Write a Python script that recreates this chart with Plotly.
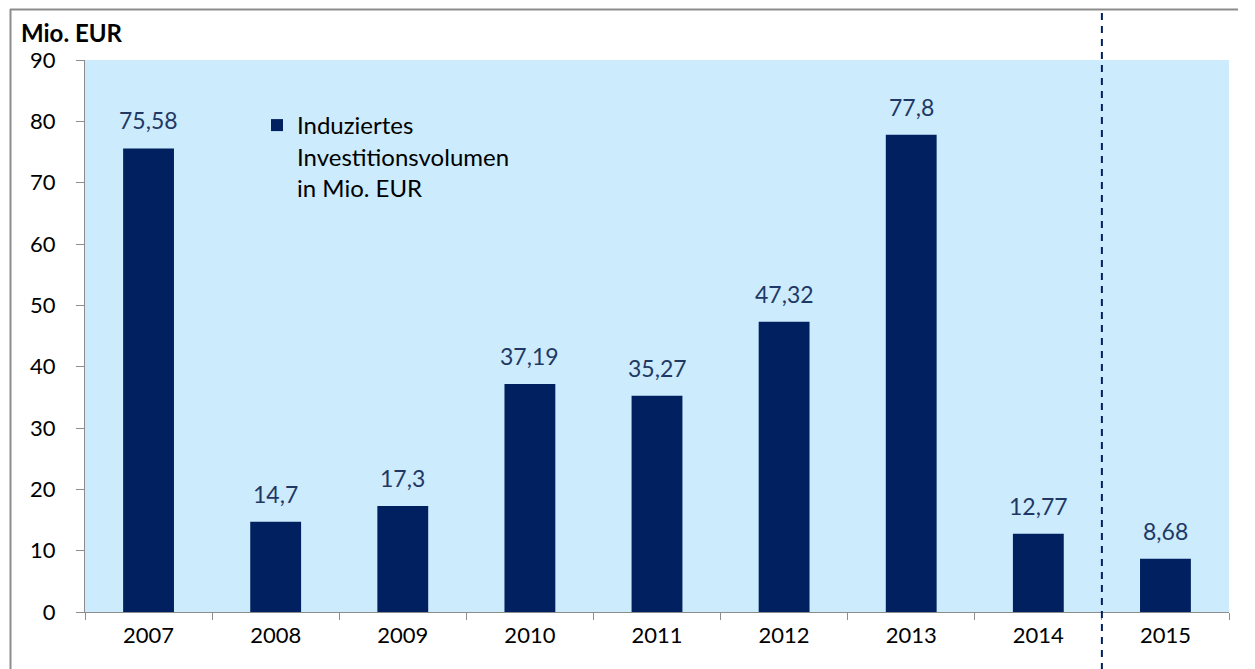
import plotly.graph_objects as go

years = ["2007", "2008", "2009", "2010", "2011", "2012", "2013", "2014", "2015"]
values = [75.58, 14.7, 17.3, 37.19, 35.27, 47.32, 77.8, 12.77, 8.68]
labels = ["75,58", "14,7", "17,3", "37,19", "35,27", "47,32", "77,8", "12,77", "8,68"]
series_name = "Induziertes<br>Investitionsvolumen<br>in Mio. EUR"
y_ticks = [0, 10, 20, 30, 40, 50, 60, 70, 80, 90]

OFF = 8  # page body margin
W, H = 1255 - OFF, 669 - OFF
ml, mt = 85 - OFF, 60 - OFF
pw, ph = 1229 - 85, 612 - 60
mr, mb = W - ml - pw, H - mt - ph

def px_x(p):
    return (p - OFF - ml) / pw

def px_y(p):
    return (H - mb - (p - OFF)) / ph

FONT = "Lato"
NAVY = "#002060"
LABEL = "#1F3864"
BORDER = "#8C8C8C"

fig = go.Figure()
fig.add_trace(go.Bar(
    x=years, y=values, name=series_name,
    marker=dict(color=NAVY, line=dict(width=0)),
    showlegend=True,
))

annotations = [dict(
    text="<b>Mio. EUR</b>", xref="paper", yref="paper",
    x=px_x(19), y=px_y(33), xanchor="left", yanchor="middle",
    showarrow=False, font=dict(family=FONT, size=24, color="black"),
)]
for i, (v, lab) in enumerate(zip(values, labels)):
    annotations.append(dict(
        x=i, y=v, xref="x", yref="y", text=lab, showarrow=False,
        xanchor="center", yanchor="bottom", yshift=12,
        font=dict(family=FONT, size=23, color=LABEL),
    ))

fig.update_layout(
    width=W, height=H,
    margin=dict(l=ml, r=mr, t=mt, b=mb),
    paper_bgcolor="white",
    plot_bgcolor="#CCEBFD",
    bargap=0.6,
    font=dict(family=FONT, size=22, color="black"),
    showlegend=True,
    legend=dict(
        x=px_x(257), y=px_y(103), xanchor="left", yanchor="top",
        bgcolor="rgba(0,0,0,0)", valign="top",
        font=dict(family=FONT, size=24, color="black"),
        tracegroupgap=0,
    ),
    xaxis=dict(
        type="category", showgrid=False, showline=True, linecolor=BORDER, linewidth=1,
        ticks="outside", ticklen=7, tickcolor=BORDER, tickson="boundaries",
        tickfont=dict(family=FONT, size=22, color="black"),
        ticklabelstandoff=4,
        range=[-0.5, 8.5],
    ),
    yaxis=dict(
        range=[0, 90], tickvals=y_ticks, showgrid=False, zeroline=False,
        showline=True, linecolor=BORDER, linewidth=1,
        ticks="outside", ticklen=8, tickcolor=BORDER,
        tickfont=dict(family=FONT, size=22, color="black"),
        ticklabelstandoff=16,
    ),
    annotations=annotations,
    shapes=[
        dict(type="line", xref="paper", yref="paper",
             x0=px_x(10), x1=px_x(1238), y0=px_y(9.5), y1=px_y(9.5),
             line=dict(color=BORDER, width=2)),
        dict(type="line", xref="paper", yref="paper",
             x0=px_x(10.5), x1=px_x(10.5), y0=px_y(9), y1=px_y(669),
             line=dict(color=BORDER, width=2)),
        dict(type="line", xref="x", yref="paper",
             x0=7.5, x1=7.5, y0=px_y(0), y1=px_y(669),
             line=dict(color=NAVY, width=2, dash="7px,6px")),
    ],
)

fig.write_html("out.html")
